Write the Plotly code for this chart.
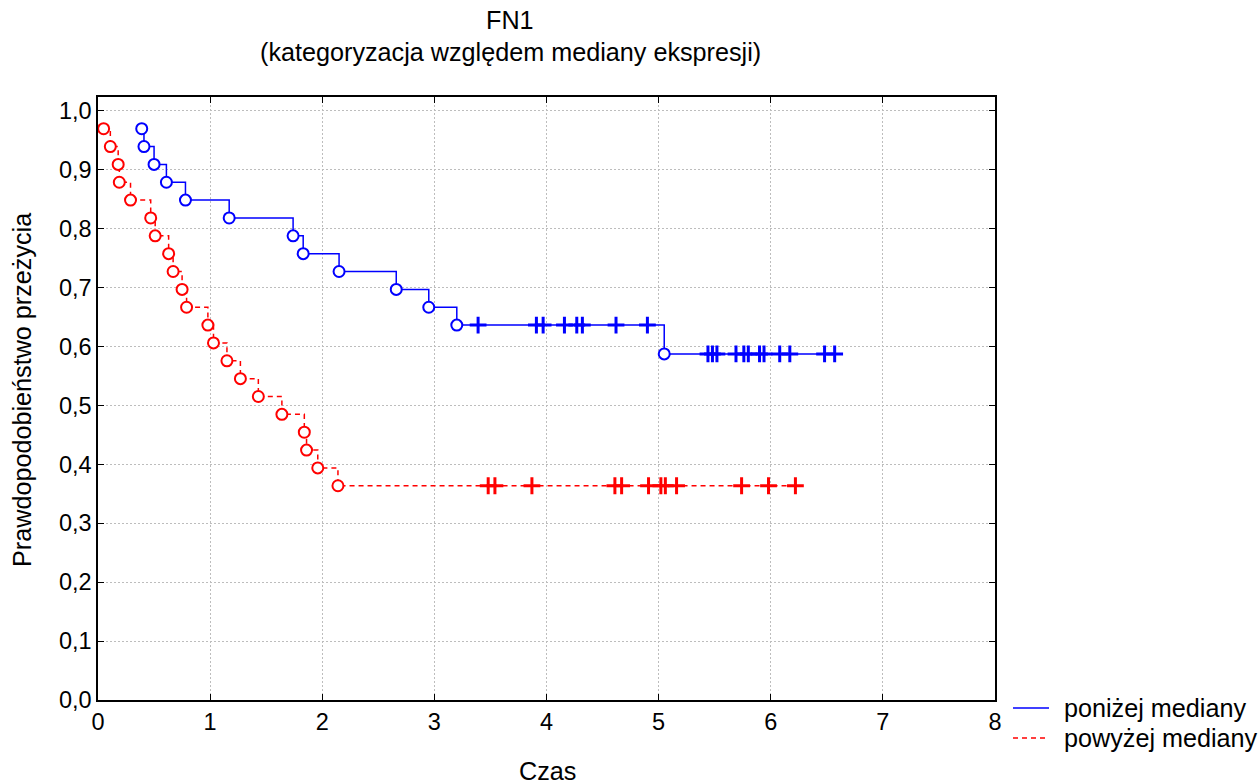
import numpy as np
import plotly.graph_objects as go

# Follow-up times (years) per expression group: deaths and censored observations
below_event_t = [0.39, 0.41, 0.50, 0.61, 0.78, 1.17, 1.74, 1.83, 2.15, 2.66, 2.95, 3.20, 5.05]
below_cens_t = [3.39, 3.91, 3.97, 4.16, 4.27, 4.32, 4.62, 4.90,
                5.44, 5.48, 5.52, 5.69, 5.76, 5.80, 5.90, 5.94, 6.08, 6.17, 6.48, 6.57]

above_event_t = [0.05, 0.11, 0.18, 0.19, 0.29, 0.47, 0.51, 0.63, 0.67, 0.75, 0.79,
                 0.98, 1.03, 1.15, 1.27, 1.43, 1.64, 1.84, 1.86, 1.96, 2.14]
above_cens_t = [3.48, 3.54, 3.87, 4.61, 4.67, 4.91, 5.02, 5.06, 5.16, 5.74, 5.98, 6.22]

group_names = ["poniżej mediany", "powyżej mediany"]
y_ticks = [0.0, 0.1, 0.2, 0.3, 0.4, 0.5, 0.6, 0.7, 0.8, 0.9, 1.0]
y_tick_labels = ["0,0", "0,1", "0,2", "0,3", "0,4", "0,5", "0,6", "0,7", "0,8", "0,9", "1,0"]
x_ticks = [0, 1, 2, 3, 4, 5, 6, 7, 8]


def kaplan_meier(event_t, cens_t):
    """Product-limit estimate: survival after each event and at each censoring."""
    ev = np.array(sorted(event_t))
    ce = np.array(sorted(cens_t))
    n = len(ev) + len(ce)
    s = 1.0
    ev_s = []
    for t in ev:
        at_risk = n - np.sum(ev < t) - np.sum(ce < t)
        s *= 1.0 - 1.0 / at_risk
        ev_s.append(s)
    ev_s = np.array(ev_s)
    ce_s = []
    for t in ce:
        prior = ev_s[ev <= t]
        ce_s.append(prior[-1] if len(prior) else 1.0)
    return ev, ev_s, ce, np.array(ce_s)


FONT = "Liberation Sans, Arial, sans-serif"
TXT = 25.2
groups = [
    (below_event_t, below_cens_t, "#0000ff", "solid"),
    (above_event_t, above_cens_t, "#ff0000", "5px,4px"),
]

# Pixel geometry of the plot frame
W, H = 1260, 784
L, R, T, B = 98, 265, 97, 84
plot_w, plot_h = W - L - R, H - T - B


def px_x(px):
    return (px - L) / plot_w


def px_y(py):
    return (H - B - py) / plot_h


fig = go.Figure()
shapes, annotations = [], []
legend_rows = [708, 738]
for name, (et, ct, color, dash), row in zip(group_names, groups, legend_rows):
    ev, ev_s, ce, ce_s = kaplan_meier(et, ct)
    end_t = max(ev.max(), ce.max())
    fig.add_trace(go.Scatter(
        x=list(ev) + [end_t], y=list(ev_s) + [ev_s[-1]],
        mode="lines", line=dict(color=color, width=1.5, dash=dash, shape="hv"),
        name=name, showlegend=False, hoverinfo="skip"))
    fig.add_trace(go.Scatter(
        x=ev, y=ev_s, mode="markers", showlegend=False,
        marker=dict(symbol="circle", size=11, color="white",
                    line=dict(color=color, width=2))))
    fig.add_trace(go.Scatter(
        x=ce, y=ce_s, mode="markers", showlegend=False,
        marker=dict(symbol="cross-thin", size=12, color=color,
                    line=dict(color=color, width=3))))
    # key entry: line sample plus group name
    shapes.append(dict(type="line", xref="paper", yref="paper",
                       x0=px_x(1013), x1=px_x(1049), y0=px_y(row), y1=px_y(row),
                       line=dict(color=color, width=1.5, dash=dash)))
    annotations.append(dict(text=name, xref="paper", yref="paper",
                            x=px_x(1062), y=px_y(row), xanchor="left", yanchor="middle",
                            showarrow=False, font=dict(size=TXT)))

annotations += [
    dict(text="FN1", x=px_x(510), xref="paper", y=px_y(20), yref="paper",
         yanchor="middle", showarrow=False, font=dict(size=TXT)),
    dict(text="(kategoryzacja względem mediany ekspresji)", x=px_x(510), xref="paper",
         y=px_y(52), yref="paper", yanchor="middle", showarrow=False, font=dict(size=TXT)),
    dict(text="Czas", x=px_x(547), xref="paper", y=px_y(771), yref="paper",
         yanchor="middle", showarrow=False, font=dict(size=TXT)),
    dict(text="Prawdopodobieństwo przeżycia", x=px_x(22), xref="paper",
         y=px_y(390), yref="paper", xanchor="center", yanchor="middle",
         textangle=-90, showarrow=False, font=dict(size=TXT)),
]

axis_common = dict(
    showline=True, linecolor="black", linewidth=1.5, mirror="ticks",
    ticks="inside", ticklen=6, tickwidth=1, tickcolor="black",
    showgrid=True, gridcolor="#bdbdbd", griddash="2px,2px", gridwidth=1,
    zeroline=False, automargin=False,
    tickfont=dict(family=FONT, size=23.5, color="black"),
)

fig.update_layout(
    width=W, height=H,
    paper_bgcolor="white", plot_bgcolor="white",
    margin=dict(l=L, r=R, t=T, b=B),
    font=dict(family=FONT, size=TXT, color="black"),
    showlegend=False,
    xaxis=dict(range=[0, 8], tickvals=x_ticks, **axis_common),
    yaxis=dict(range=[0, 1.0235], tickvals=y_ticks, ticktext=y_tick_labels,
               **axis_common),
    shapes=shapes,
    annotations=annotations,
)

fig.write_html("out.html")
